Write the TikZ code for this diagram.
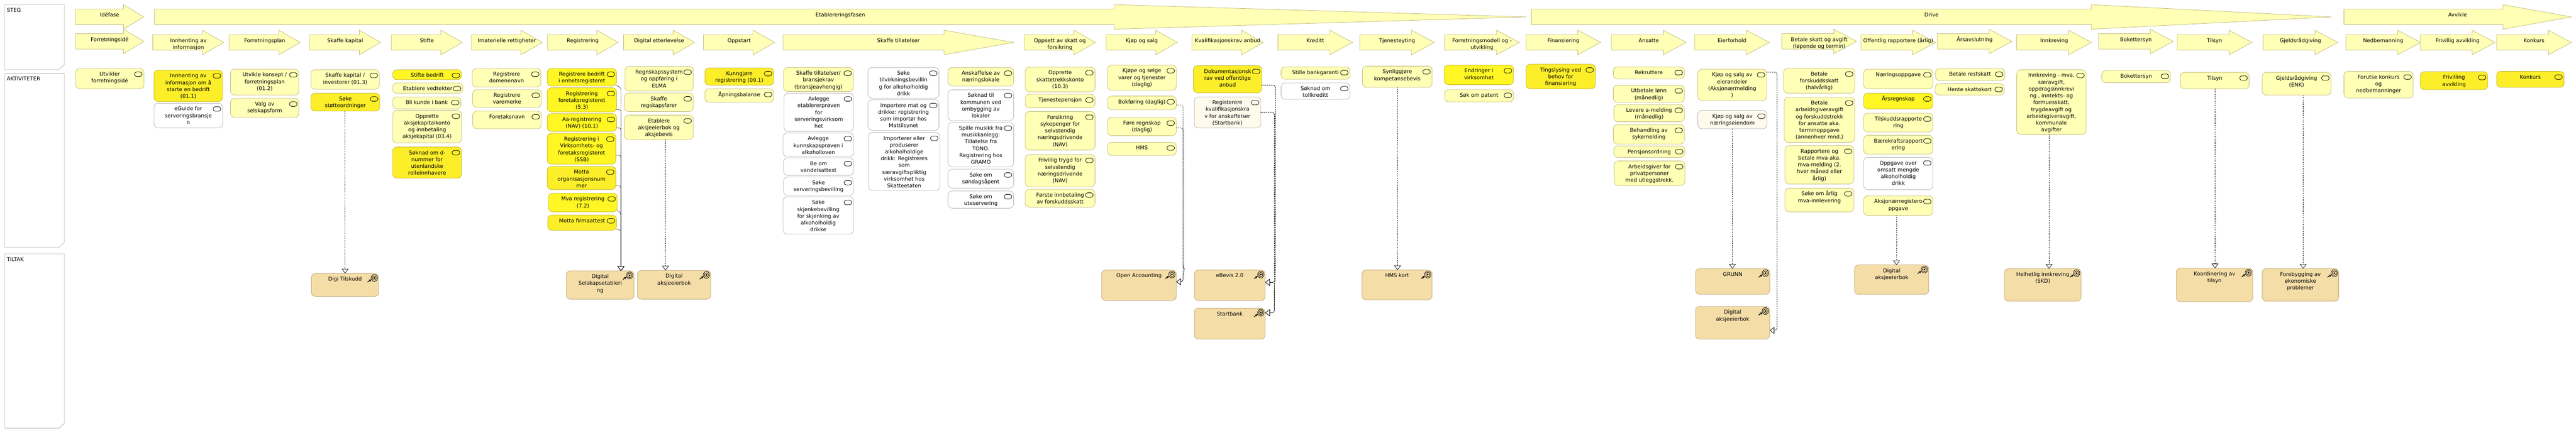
\documentclass[tikz,border=0pt]{standalone}
\usepackage{fontspec}
\setmainfont{DejaVu Sans}
\usetikzlibrary{arrows.meta}
\definecolor{ltfill}{HTML}{FFFFB5}
\definecolor{ltline}{HTML}{C2BC7E}
\definecolor{ylfill}{HTML}{FDEE2A}
\definecolor{ybfill}{HTML}{FFF624}
\definecolor{ylline}{HTML}{C4B432}
\definecolor{whline}{HTML}{B4B4B4}
\definecolor{crfill}{HTML}{FFFBEC}
\definecolor{tnfill}{HTML}{F5DDA8}
\definecolor{tnline}{HTML}{BDA674}
\newcommand{\firstlinestrut}{\rule{0pt}{16.5pt}}
\tikzset{
  actnode/.style={inner sep=0pt,outer sep=0pt,rounded corners=9pt,line width=0.9pt},
  lt/.style={actnode,fill=ltfill,draw=ltline},
  yl/.style={actnode,fill=ylfill,draw=ylline},
  yb/.style={actnode,fill=ybfill,draw=ylline},
  wh/.style={actnode,fill=white,draw=whline},
  cr/.style={actnode,fill=crfill,draw=whline},
  goalnode/.style={actnode,fill=tnfill,draw=tnline},
  pill/.style={draw=black,line width=0.9pt,rounded corners=4.8pt},
  stepshape/.style={fill=ltfill,draw=ltline,line width=0.9pt},
  steptext/.style={inner sep=0pt,outer sep=0pt},
  notebox/.style={fill=white,draw=whline,line width=0.9pt},
  notelabel/.style={inner sep=0pt,anchor=west},
  realize/.style={draw=black,line width=1pt,dash pattern=on 2pt off 2pt,rounded corners=5pt,
    -{Triangle[open,fill=white,length=10pt,width=15pt,line width=0.8pt]}},
}
% name, style, x1, y1, x2, y2, text
\newcommand{\actbox}[7]{%
  \pgfmathsetmacro\bw{#5-#3}\pgfmathsetmacro\bh{(#6-#4)*0.4464}%
  \node[#2,minimum width=\bw pt,minimum height=\bh pt,anchor=north west] (#1) at (#3,#4)
    {\parbox[c][\bh pt][t]{\bw pt}{\centering\firstlinestrut #7}};
  \draw[pill] ([xshift=-20.7pt,yshift=-7.6pt]#1.north east) rectangle ++(16.7pt,-10pt);
}
\newcommand{\goalbox}[6]{%
  \pgfmathsetmacro\bw{#4-#2}\pgfmathsetmacro\bh{(#5-#3)*0.4464}%
  \node[goalnode,minimum width=\bw pt,minimum height=\bh pt,anchor=north west] (#1) at (#2,#3)
    {\parbox[c][\bh pt][t]{\bw pt}{\centering\firstlinestrut #6}};
  \begin{scope}[shift={(#1.north east)},x=1pt,y=-1pt,line width=0.9pt]
    \draw (-9.7,10) ellipse (7pt and 7.6pt);
    \draw (-9.7,10) ellipse (4.4pt and 4.8pt);
    \fill (-9.7,10) ellipse (2pt and 2.2pt);
    \draw[line width=1.5pt,-{Stealth[length=5pt,width=6pt]}] (-24.5,19) -- (-16.5,13.5);
  \end{scope}
}
% name, x1, neck, tip, top, text
\newcommand{\steparrow}[6]{%
  \draw[stepshape] (#2,#5+22) -- (#3,#5+22) -- (#3,#5) -- (#4,#5+60.5) -- (#3,#5+121) -- (#3,#5+98) -- (#2,#5+98) -- cycle;
  \pgfmathsetmacro\bw{#4-#2}%
  \node[steptext,anchor=north] (#1) at ({(#2+#4)/2},#5+23) {\parbox[t]{\bw pt}{\centering\firstlinestrut #6}};
}
% name, x1, y1, y2, text
\newcommand{\panelbox}[5]{%
  \draw[notebox] (10.3,#2) -- (141.7,#2) -- (141.7,#3-25) -- (130,#3) -- (10.3,#3) -- cycle;
  \node[notelabel] (#1) at (15,#2+27) {#4};
}
\begin{document}
\begin{tikzpicture}[x=1pt,y=-0.4464pt]
\fontsize{11.6}{15}\selectfont
\fill[white] (0,0) rectangle (5669,2134.8);
\useasboundingbox (0,0) rectangle (5669,2134.8);

\panelbox{pSteg}{23}{343}{STEG}{}
\panelbox{pAkt}{362}{1220}{AKTIVITETER}{}
\panelbox{pTil}{1252}{2112}{TILTAK}{}

% Phases
\steparrow{fIde}{166.3}{271.7}{316.3}{23}{Idéfase}
\steparrow{fEtab}{340}{2452.3}{3359}{23}{Etablereringsfasen}
\steparrow{fDrive}{3370.3}{4602.3}{5131}{23}{Drive}
\steparrow{fAvv}{5158.3}{5508.3}{5658.7}{23}{Avvikle}

% Steps
\steparrow{s01}{166.3}{271.7}{316.3}{144}{Forretningsidé}
\steparrow{s02}{336.3}{445.3}{492.7}{149}{Innhenting av\\informasjon}
\steparrow{s03}{504.3}{613.7}{660.7}{149}{Forretningsplan}
\steparrow{s04}{681.3}{790.7}{837.7}{149}{Skaffe kapital}
\steparrow{s05}{861.3}{970.3}{1017.7}{149}{Stifte}
\steparrow{s06}{1037.3}{1146.3}{1193.7}{149}{Imaterielle rettigheter}
\steparrow{s07}{1204.3}{1313.3}{1360.7}{149}{Registrering}
\steparrow{s08}{1372.3}{1481.3}{1528.7}{149}{Digital etterlevelse}
\steparrow{s09}{1548.3}{1657.3}{1704.7}{149}{Oppstart}
\steparrow{s10}{1723.3}{2077.3}{2230.7}{149}{Skaffe tillatelser}
\steparrow{s11}{2254.3}{2363.3}{2410.7}{149}{Oppsett av skatt og\\forsikring}
\steparrow{s12}{2434.3}{2543.3}{2590.7}{149}{Kjøp og salg}
\steparrow{s13}{2623.3}{2732.3}{2779.7}{149}{Kvalifikasjonskrav anbud}
\steparrow{s14}{2812.3}{2926.3}{2976.7}{149}{Kreditt}
\steparrow{s15}{2992.3}{3106.3}{3156.7}{149}{Tjenesteyting}
\steparrow{s16}{3179.3}{3293.3}{3343.7}{149}{Forretningsmodell og -\\utvikling}
\steparrow{s17}{3358.3}{3472.3}{3522.7}{149}{Finansiering}
\steparrow{s18}{3546.3}{3660.3}{3710.7}{149}{Ansatte}
\steparrow{s19}{3729.3}{3843.3}{3893.7}{149}{Eierforhold}
\steparrow{s20}{3921.3}{4035.3}{4085.7}{144}{Betale skatt og avgift\\(løpende og termin)}
\steparrow{s21}{4095.3}{4209.3}{4259.7}{149}{Offentlig rapportere (årlig)}
\steparrow{s22}{4263.3}{4377.3}{4427.7}{144}{Årsavslutning}
\steparrow{s23}{4438.3}{4552.3}{4602.7}{149}{Innkreving}
\steparrow{s24}{4618.3}{4732.3}{4782.7}{144}{Bokettersyn}
\steparrow{s25}{4791.3}{4905.3}{4955.7}{149}{Tilsyn}
\steparrow{s26}{4980.3}{5094.3}{5144.7}{149}{Gjeldsrådgiving}
\steparrow{s27}{5162.3}{5276.3}{5326.7}{149}{Nedbemanning}
\steparrow{s28}{5326.3}{5440.3}{5490.7}{149}{Frivillig avvikling}
\steparrow{s29}{5494.3}{5608.3}{5658.7}{149}{Konkurs}

% Activities
\actbox{a01}{lt}{166.3}{338}{316.7}{438}{Utvikler\\forretningsidé}
\actbox{a02}{yl}{339}{346}{489.7}{501}{Innhenting av\\informasjon om å\\starte en bedrift\\(01.1)}
\actbox{a03}{wh}{339}{509}{489.7}{631}{eGuide for\\serveringsbransje\\n}
\actbox{a04}{lt}{507.3}{341}{657.7}{469}{Utvikle konsept /\\forretningsplan\\(01.2)}
\actbox{a05}{lt}{507.3}{485}{657.7}{579}{Valg av\\selskapsform}
\actbox{a06}{lt}{684.3}{344}{834.7}{440}{Skaffe kapital /\\investorer (01.3)}
\actbox{a07}{yl}{684.3}{460}{835.7}{548}{Søke\\støtteordninger}
\actbox{a08}{yb}{864.3}{344}{1015.7}{393}{Stifte bedrift}
\actbox{a09}{lt}{864.3}{409}{1018.3}{460}{Etablere vedtekter}
\actbox{a10}{lt}{864.3}{478}{1014.3}{537}{Bli kunde i bank}
\actbox{a11}{lt}{864.3}{545}{1015.7}{705}{Opprette\\aksjekapitalkonto\\og innbetaling\\aksjekapital (03.4)}
\actbox{a12}{yl}{864.3}{725}{1015.7}{879}{Søknad om d-\\nummer for\\utenlandske\\rolleinnhavere}
\actbox{a13}{lt}{1039.3}{338}{1190.3}{429}{Registrere\\domenenavn}
\actbox{a14}{lt}{1040.3}{442}{1191.3}{530}{Registrere\\varemerke}
\actbox{a15}{lt}{1040.3}{548}{1191.3}{635}{Foretaksnavn}
\actbox{r1}{yb}{1204.3}{338}{1356.7}{424}{Registrere bedrift\\i enhetsregisteret}
\actbox{r2}{yb}{1204.3}{433}{1356.7}{552}{Registrering\\foretaksregisteret\\(5.3)}
\actbox{r3}{yb}{1204.3}{561}{1356.7}{648}{Aa-registrering\\(NAV) (10.1)}
\actbox{r4}{yb}{1204.3}{658}{1355.3}{810}{Registrering i\\Virksomhets- og\\foretaksregisteret\\(SSB)}
\actbox{r5}{yl}{1204.3}{821}{1355.3}{935}{Motta\\organisasjonsnum\\mer}
\actbox{r6}{yb}{1207.3}{953}{1358.3}{1045}{Mva registrering\\(7.2)}
\actbox{r7}{yl}{1205.3}{1061}{1356.7}{1136}{Motta firmaattest}
\actbox{a16}{lt}{1375.3}{328}{1525.7}{449}{Regnskapssystem\\og oppføring i\\ELMA}
\actbox{a17}{lt}{1374.3}{459}{1525.7}{550}{Skaffe\\regskapsfører}
\actbox{a18}{lt}{1374.3}{568}{1525.7}{689}{Etablere\\aksjeeierbok og\\aksjebevis}
\actbox{a19}{yl}{1551.3}{335}{1702.7}{420}{Kunngjøre\\registrering (09.1)}
\actbox{a20}{lt}{1551.3}{438}{1702.7}{504}{Åpningsbalanse}
\actbox{a21}{lt}{1724.3}{333}{1877.7}{451}{Skaffe tillatelser/\\bransjekrav\\(bransjeavhengig)}
\actbox{a22}{wh}{1725.3}{460}{1878.3}{648}{Avlegge\\etablererprøven\\for\\serveringsvirksom\\het}
\actbox{a23}{wh}{1723.3}{656}{1878.3}{773}{Avlegge\\kunnskapsprøven i\\alkoholloven}
\actbox{a24}{wh}{1724.3}{779}{1878.3}{865}{Be om\\vandelsattest}
\actbox{a25}{wh}{1724.3}{873}{1878.3}{965}{Søke\\serveringsbevilling}
\actbox{a26}{wh}{1723.3}{971}{1878.3}{1155}{Søke\\skjenkebevilling\\for skjenking av\\alkoholholdig\\drikke}
\actbox{a27}{wh}{1910.3}{333}{2066.3}{485}{Søke\\tilvirkningsbevillin\\g for alkoholholdig\\drikk}
\actbox{a28}{wh}{1910.3}{492}{2066.3}{643}{Importere mat og\\drikke: registrering\\som importør hos\\Mattilsynet}
\actbox{a29}{wh}{1911.3}{654}{2068.3}{940}{Importerer eller\\produserer\\alkoholholdige\\drikk: Registreres\\som\\særavgiftspliktig\\virksomhet hos\\Skatteetaten}
\actbox{a30}{lt}{2086.3}{333}{2230.7}{424}{Anskaffelse av\\næringslokale}
\actbox{a31}{wh}{2086.3}{443}{2230.7}{595}{Søknad til\\kommunen ved\\ombygging av\\lokaler}
\actbox{a32}{wh}{2086.3}{604}{2230.7}{823}{Spille musikk fra\\musikkanlegg:\\Tillatelse fra\\TONO.\\Registrering hos\\GRAMO}
\actbox{a33}{wh}{2086.3}{835}{2230.7}{928}{Søke om\\søndagsåpent}
\actbox{a34}{wh}{2086.3}{942}{2230.7}{1027}{Søke om\\uteservering}
\actbox{a35}{lt}{2256.3}{331}{2409.7}{453}{Opprette\\skattetrekkskonto\\(10.3)}
\actbox{a36}{lt}{2256.3}{465}{2409.7}{532}{Tjenestepensjon}
\actbox{a37}{lt}{2256.3}{550}{2409.7}{740}{Forsikring\\sykepenger for\\selvstendig\\næringsdrivende\\(NAV)}
\actbox{a38}{lt}{2256.3}{763}{2409.7}{922}{Frivillig trygd for\\selvstendig\\næringsdrivende\\(NAV)}
\actbox{a39}{lt}{2256.3}{934}{2409.7}{1022}{Første innbetaling\\av forskuddsskatt}
\actbox{a40}{lt}{2437.3}{321}{2588.7}{445}{Kjøpe og selge\\varer og tjenester\\(daglig)}
\actbox{k2}{lt}{2437.3}{474}{2588.7}{541}{Bokføring (daglig)}
\actbox{k3}{lt}{2437.3}{579}{2588.7}{669}{Føre regnskap\\(daglig)}
\actbox{a41}{lt}{2437.3}{702}{2588.7}{767}{HMS}
\actbox{q1}{yl}{2626.3}{324}{2776.7}{458}{Dokumentasjonsk\\rav ved offentlige\\anbud}
\actbox{q2}{cr}{2628.3}{478}{2774.3}{631}{Registerere\\kvalifikasjonskra\\v for anskaffelser\\(Startbank)}
\actbox{a42}{lt}{2819.3}{330}{2970.7}{391}{Stille bankgaranti}
\actbox{a43}{wh}{2819.3}{409}{2970.7}{490}{Søknad om\\tollkreditt}
\actbox{a44}{lt}{2998.3}{326}{3151.7}{431}{Synliggjøre\\kompetansebevis}
\actbox{a45}{yb}{3178.3}{321}{3330.7}{418}{Endringer i\\virksomhet}
\actbox{a46}{lt}{3179.3}{442}{3330.7}{503}{Søk om patent}
\actbox{a47}{yl}{3358.3}{317}{3510.7}{438}{Tingslysing ved\\behov for\\finansiering}
\actbox{a48}{lt}{3550.3}{330}{3706.7}{389}{Rekruttere}
\actbox{a49}{lt}{3550.3}{420}{3706.7}{505}{Utbetale lønn\\(månedlig)}
\actbox{a50}{lt}{3551.7}{516}{3706.7}{601}{Levere a-melding\\(månedlig)}
\actbox{a51}{lt}{3550.3}{615}{3706.7}{711}{Behandling av\\sykemelding}
\actbox{a52}{lt}{3551.3}{720}{3707.7}{776}{Pensjonsordning}
\actbox{a53}{lt}{3552.3}{794}{3707.7}{915}{Arbeidsgiver for\\privatpersoner\\med utleggstrekk.}
\actbox{e1}{lt}{3736.3}{341}{3887.7}{496}{Kjøp og salg av\\eierandeler\\(Aksjonærmelding\\)}
\actbox{e2}{cr}{3736.3}{545}{3888.7}{635}{Kjøp og salg av\\næringseiendom}
\actbox{a54}{lt}{3925.3}{337}{4081.7}{460}{Betale\\forskuddsskatt\\(halvårlig)}
\actbox{a55}{lt}{3926.3}{480}{4081.7}{702}{Betale\\arbeidsgiveravgift\\og forskuddstrekk\\for ansatte aka.\\terminoppgave\\(annenhver mnd.)}
\actbox{a56}{lt}{3928.3}{718}{4079.7}{908}{Rapportere og\\betale mva aka.\\mva-melding (2.\\hver måned eller\\årlig)}
\actbox{a57}{lt}{3928.3}{928}{4079.7}{1045}{Søke om årlig\\mva-innlevering}
\actbox{a58}{lt}{4101.3}{341}{4253.7}{438}{Næringsoppgave}
\actbox{a59}{yb}{4101.3}{460}{4253.7}{537}{Årsregnskap}
\actbox{a60}{lt}{4101.3}{559}{4253.7}{651}{Tilskuddsrapporte\\ring}
\actbox{a61}{lt}{4101.3}{667}{4253.7}{760}{Bærekraftsrapport\\ering}
\actbox{a62}{wh}{4101.3}{776}{4253.7}{935}{Oppgave over\\omsatt mengde\\alkoholholdig\\drikk}
\actbox{o7}{lt}{4101.3}{966}{4253.7}{1063}{Aksjonærregistero\\ppgave}
\actbox{a63}{lt}{4259.3}{338}{4411.7}{398}{Betale restskatt}
\actbox{a64}{lt}{4258.3}{413}{4410.7}{469}{Hente skattekort}
\actbox{i1}{lt}{4438.3}{344}{4590.7}{664}{Innkreving - mva,\\særavgift,\\oppdragsinnkrevi\\ng ,  inntekts- og\\formuesskatt,\\trygdeavgift og\\arbeidsgiveravgift,\\kommunale\\avgifter}
\actbox{a65}{lt}{4625.3}{348}{4776.7}{408}{Bokettersyn}
\actbox{t1}{lt}{4798.3}{357}{4949.7}{438}{Tilsyn}
\actbox{g1}{lt}{4978.3}{357}{5129.7}{469}{Gjeldsrådgiving\\(ENK)}
\actbox{a66}{lt}{5158.3}{352}{5310.7}{483}{Forutse konkurs\\og\\nedbemanninger}
\actbox{a67}{yl}{5326.3}{354}{5474.7}{442}{Frivilling\\avvikling}
\actbox{a68}{yl}{5494.3}{352}{5642.7}{431}{Konkurs}

% Goals
\goalbox{gDigi}{685.3}{1349}{833.3}{1462}{Digi Tilskudd}
\goalbox{gSel}{1246.3}{1336}{1395.3}{1476}{Digital\\Selskapsetableri\\ng}
\goalbox{gAks}{1402.7}{1334}{1564.3}{1476}{Digital\\aksjeeierbok}
\goalbox{gOpen}{2424.3}{1332}{2588.7}{1482}{Open Accounting}
\goalbox{gBev}{2628.3}{1332}{2784.3}{1482}{eBevis 2.0}
\goalbox{gStart}{2628.3}{1520}{2784.3}{1673}{Startbank}
\goalbox{gHms}{2997.3}{1332}{3151.7}{1479}{HMS kort}
\goalbox{gGrunn}{3731.3}{1325}{3894.7}{1452}{GRUNN}
\goalbox{gAks2}{3731.3}{1512}{3894.7}{1673}{Digital\\aksjeeierbok}
\goalbox{gAks3}{4081.3}{1307}{4244.7}{1452}{Digital\\aksjeeierbok}
\goalbox{gInn}{4411.3}{1325}{4579.7}{1486}{Helhetlig innkreving\\(SKD)}
\goalbox{gKoo}{4789.3}{1323}{4957.7}{1488}{Koordinering av\\tilsyn}
\goalbox{gFor}{4978.3}{1325}{5146.7}{1486}{Forebygging av\\økonomiske\\problemer}

% Connectors
\draw[realize] (759.5,0 |- a07.south) -- (759.5,0 |- gDigi.north);
\draw[realize] (r1.east |- 0,420) -- (1366.5,432) -- (1366.5,0 |- gSel.north);
\draw[realize] (r2.east |- 0,540) -- (1366.5,540) -- (1366.5,0 |- gSel.north);
\draw[realize] (r3.east |- 0,631) -- (1366.5,631) -- (1366.5,0 |- gSel.north);
\draw[realize] (r4.east |- 0,765) -- (1366.5,765) -- (1366.5,0 |- gSel.north);
\draw[realize] (r5.east |- 0,915) -- (1366.5,915) -- (1366.5,0 |- gSel.north);
\draw[realize] (r6.east |- 0,1038) -- (1366.5,1050) -- (1366.5,0 |- gSel.north);
\draw[realize] (r7.east |- 0,1130) -- (1366.5,1136) -- (1366.5,0 |- gSel.north);
\draw[realize] (1464.5,0 |- a18.south) -- (1464.5,0 |- gAks.north);
\draw[realize] (k2.east |- 0,518) -- (2603.5,518) -- (2603.5,1318) -- (2607.5,1330) -- (2603.5,1345) -- (2603.5,1390) -- (gOpen.east |- 0,1390);
\draw[realize] (k3.east |- 0,631) -- (2603.5,631) -- (2603.5,1390) -- (gOpen.east |- 0,1390);
\draw[realize] (q1.east |- 0,420) -- (2806.5,420) -- (2806.5,1393) -- (gBev.east |- 0,1393);
\draw[realize] (q1.east |- 0,420) -- (2806.5,420) -- (2806.5,1380) -- (2804.5,1400) -- (2804.5,1543) -- (gStart.east |- 0,1543);
\draw[realize] (q2.east |- 0,554) -- (2804.5,554) -- (2804.5,1393) -- (gBev.east |- 0,1393);
\draw[realize] (q2.east |- 0,554) -- (2804.5,554) -- (2804.5,1543) -- (gStart.east |- 0,1543);
\draw[realize] (3075.5,0 |- a44.south) -- (3075.5,0 |- gHms.north);
\draw[realize] (3812.5,0 |- e2.south) -- (3812.5,0 |- gGrunn.north);
\draw[realize] (e1.east |- 0,356) -- (3910.5,356) -- (3910.5,1630) -- (gAks2.east |- 0,1630);
\draw[realize] (4173.5,0 |- o7.south) -- (4173.5,0 |- gAks3.north);
\draw[realize] (4509.5,0 |- i1.south) -- (4509.5,0 |- gInn.north);
\draw[realize] (4874.5,0 |- t1.south) -- (4874.5,0 |- gKoo.north);
\draw[realize] (5068.5,0 |- g1.south) -- (5068.5,0 |- gFor.north);
\end{tikzpicture}
\end{document}
